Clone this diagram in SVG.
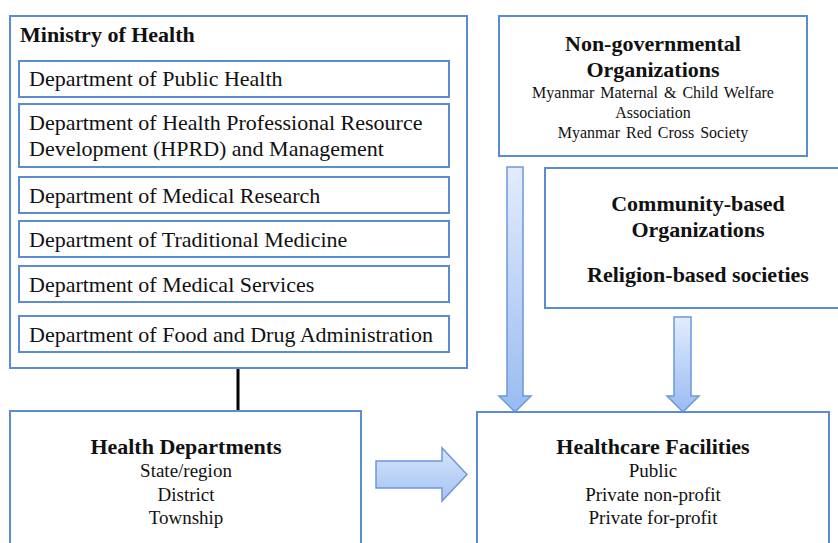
<svg xmlns="http://www.w3.org/2000/svg" width="838" height="543" viewBox="0 0 838 543">
<style>
.box{fill:#fff;stroke:#5b8bd0;stroke-width:2}
.t{font-family:"Liberation Serif","Times New Roman",serif;fill:#111}
.d{font-size:22px}
.b{font-weight:bold;font-size:22px}
.c{text-anchor:middle}
.s{font-size:19px}
.n{font-size:16px;word-spacing:2px}
.arr{stroke:#6e98d6;stroke-width:1.5}
</style>
<defs>
<linearGradient id="gv" x1="0" y1="0" x2="0" y2="1">
<stop offset="0" stop-color="#e3ecfd"/>
<stop offset="1" stop-color="#99bbf2"/>
</linearGradient>
<linearGradient id="gh" x1="0" y1="0" x2="0" y2="1">
<stop offset="0" stop-color="#d7e4fb"/>
<stop offset="1" stop-color="#a4c3f3"/>
</linearGradient>
</defs>
<rect width="838" height="543" fill="#fff"/>
<g id="connectors">
<line x1="238" y1="368" x2="238" y2="411" stroke="#000" stroke-width="3"/>
<path class="arr" fill="url(#gv)" d="M507,167 H523 V396 H531 L515,412 L499,396 H507 Z"/>
<path class="arr" fill="url(#gv)" d="M674,317 H691 V396 H699 L683,412 L667,396 H674 Z"/>
<path class="arr" fill="url(#gh)" d="M376,461 H442 V448 L467,474.5 L442,501 V488 H376 Z"/>
</g>
<g id="ministry">
<rect class="box" x="10" y="16" width="457" height="352"/>
<text class="t b" x="20" y="42">Ministry of Health</text>
</g>
<g id="dept-public-health">
<rect class="box" x="19" y="61" width="430" height="36"/>
<text class="t d" x="29" y="86">Department of Public Health</text>
</g>
<g id="dept-hprd">
<rect class="box" x="19" y="104" width="430" height="63"/>
<text class="t d" x="29" y="130">Department of Health Professional Resource</text>
<text class="t d" x="29" y="156">Development (HPRD) and Management</text>
</g>
<g id="dept-medical-research">
<rect class="box" x="19" y="177" width="430" height="36"/>
<text class="t d" x="29" y="203">Department of Medical Research</text>
</g>
<g id="dept-traditional-medicine">
<rect class="box" x="19" y="221" width="430" height="36"/>
<text class="t d" x="29" y="247">Department of Traditional Medicine</text>
</g>
<g id="dept-medical-services">
<rect class="box" x="19" y="266" width="430" height="36"/>
<text class="t d" x="29" y="292">Department of Medical Services</text>
</g>
<g id="dept-fda">
<rect class="box" x="19" y="316" width="430" height="36"/>
<text class="t d" x="29" y="342">Department of Food and Drug Administration</text>
</g>
<g id="ngo">
<rect class="box" x="499" y="16" width="308" height="140"/>
<text class="t b c" x="653" y="51">Non-governmental</text>
<text class="t b c" x="653" y="77">Organizations</text>
<text class="t n c" x="653" y="98">Myanmar Maternal &amp; Child Welfare</text>
<text class="t n c" x="653" y="118">Association</text>
<text class="t n c" x="653" y="138">Myanmar Red Cross Society</text>
</g>
<g id="cbo">
<rect class="box" x="545" y="168" width="300" height="140"/>
<text class="t b c" x="698" y="211">Community-based</text>
<text class="t b c" x="698" y="237">Organizations</text>
<text class="t b c" x="698" y="282">Religion-based societies</text>
</g>
<g id="health-departments">
<rect class="box" x="10" y="411" width="351" height="140"/>
<text class="t b c" x="186" y="454">Health Departments</text>
<text class="t s c" x="186" y="477">State/region</text>
<text class="t s c" x="186" y="501">District</text>
<text class="t s c" x="186" y="524">Township</text>
</g>
<g id="healthcare-facilities">
<rect class="box" x="477" y="412" width="352" height="140"/>
<text class="t b c" x="653" y="454">Healthcare Facilities</text>
<text class="t s c" x="653" y="477">Public</text>
<text class="t s c" x="653" y="501">Private non-profit</text>
<text class="t s c" x="653" y="524">Private for-profit</text>
</g>
</svg>
